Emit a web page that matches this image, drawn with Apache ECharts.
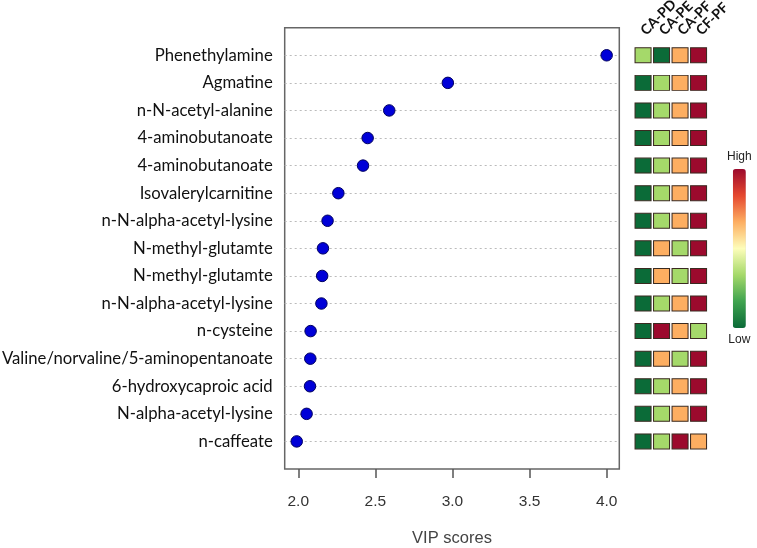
<!DOCTYPE html>
<html>
<head>
<meta charset="utf-8">
<script src="https://cdn.jsdelivr.net/npm/echarts@6/dist/echarts.min.js"></script>
<style>html,body{margin:0;padding:0;background:#fff}#c{width:757px;height:548px}</style>
</head>
<body>
<div id="c"></div>
<script>
const metabolites = ['Phenethylamine','Agmatine','n-N-acetyl-alanine','4-aminobutanoate','4-aminobutanoate','Isovalerylcarnitine','n-N-alpha-acetyl-lysine','N-methyl-glutamte','N-methyl-glutamte','n-N-alpha-acetyl-lysine','n-cysteine','Valine/norvaline/5-aminopentanoate','6-hydroxycaproic acid','N-alpha-acetyl-lysine','n-caffeate'];
const vipScores = [4.00, 2.97, 2.59, 2.45, 2.42, 2.26, 2.19, 2.16, 2.155, 2.15, 2.08, 2.078, 2.076, 2.054, 1.99];
const comparisons = ['CA-PD','CA-PE','CA-PF','CF-PF'];
// relative level: 1 = low ... 4 = high
const caPD = [2,1,1,1,1,1,1,1,1,1,1,1,1,1,1];
const caPE = [1,2,2,2,2,2,2,3,3,2,4,3,2,2,2];
const caPF = [3,3,3,3,3,3,3,2,2,3,3,2,3,3,4];
const cfPF = [4,4,4,4,4,4,4,4,4,4,2,4,4,4,3];
const xTicks = [2.0, 2.5, 3.0, 3.5, 4.0];

const levels = [caPD, caPE, caPF, cfPF];
const rowCats = [];
for (let i = 0; i <= metabolites.length + 1; i++) rowCats.push('r' + i);
const dots = vipScores.map((v, i) => [v, i + 1]);
const cells = [];
levels.forEach((col, c) => col.forEach((v, r) => cells.push([c, r + 1, v])));

const FONT = 'Lato';
const chart = echarts.init(document.getElementById('c'));
chart.setOption({
  animation: false,
  backgroundColor: '#fff',
  grid: [
    {left: 284.7, width: 334.6, top: 27.7, height: 441.3, show: true, borderColor: '#666', borderWidth: 1.5, backgroundColor: 'transparent', outerBoundsMode: 'none', containLabel: false},
    {left: 633.8, width: 74, top: 27.7, height: 441.3, outerBoundsMode: 'none', containLabel: false}
  ],
  xAxis: [
    {type: 'value', gridIndex: 0, min: 1.912, max: 4.082,
     axisLine: {show: false}, splitLine: {show: false},
     axisTick: {show: true, length: 9, lineStyle: {color: '#555', width: 1.5}, customValues: xTicks},
     axisLabel: {customValues: xTicks, formatter: v => v.toFixed(1), color: '#333', fontFamily: 'Liberation Sans', fontSize: 15.5, margin: 25},
     name: 'VIP scores', nameLocation: 'middle', nameGap: 61,
     nameTextStyle: {color: '#444', fontFamily: 'Liberation Sans', fontSize: 16.5}},
    {type: 'category', gridIndex: 1, position: 'top', data: comparisons,
     axisLine: {show: false}, axisTick: {show: false}, splitLine: {show: false},
     axisLabel: {rotate: -45, color: '#111', fontFamily: FONT, fontWeight: 'bold', fontSize: 14, margin: -5, interval: 0}}
  ],
  yAxis: [
    {type: 'category', gridIndex: 0, data: rowCats, inverse: true, boundaryGap: false,
     axisLine: {show: false}, axisTick: {show: false},
     splitLine: {show: true, interval: (i) => i > 0 && i <= metabolites.length, lineStyle: {type: [2, 3], color: '#bbb', width: 1}},
     axisLabel: {interval: 0, margin: 12, color: '#111', fontFamily: FONT, fontSize: 16.7,
       formatter: (v, i) => metabolites[i - 1] || ''}},
    {type: 'category', gridIndex: 1, data: rowCats, inverse: true, boundaryGap: false, show: false}
  ],
  visualMap: {
    type: 'continuous', seriesIndex: 1, dimension: 2, min: 1, max: 4,
    calculable: false, orient: 'vertical', left: 712, top: 136,
    itemWidth: 13, itemHeight: 159, text: ['High', 'Low'], textGap: 6,
    textStyle: {color: '#222', fontFamily: 'Liberation Sans', fontSize: 12},
    inRange: {color: ['#0b6b38', '#3fa34f', '#a5d96a', '#fdfdba', '#fdae61', '#e5472f', '#9c0a2d']}
  },
  series: [
    {type: 'scatter', xAxisIndex: 0, yAxisIndex: 0, data: dots, symbolSize: 11.5,
     itemStyle: {color: '#0000d8', borderColor: '#000060', borderWidth: 1, opacity: 1}, z: 5},
    {type: 'scatter', xAxisIndex: 1, yAxisIndex: 1, data: cells, symbol: 'rect', symbolSize: [16, 15],
     itemStyle: {borderColor: '#3a2a20', borderWidth: 1, opacity: 1}}
  ]
});
</script>
</body>
</html>
